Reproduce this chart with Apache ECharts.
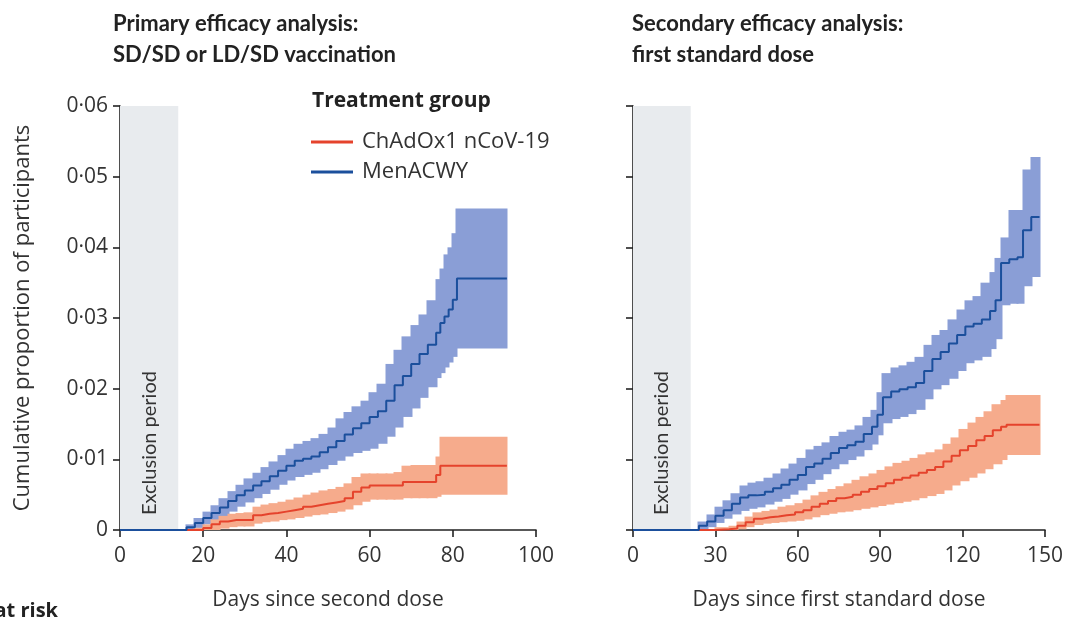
<!DOCTYPE html>
<html>
<head>
<meta charset="utf-8">
<script src="https://cdn.jsdelivr.net/npm/echarts@6/dist/echarts.min.js"></script>
<style>
html,body{margin:0;padding:0;background:#fff;}
#chart{width:1069px;height:617px;}
</style>
</head>
<body>
<div id="chart"></div>
<script>
// ---------- DATA ----------
const groupNames = ['ChAdOx1 nCoV-19', 'MenACWY'];

// Primary analysis (days since second dose)
const pExclusionEnd = 14;
const pMenDays = [0,14,16,18,20,22,24,26,28,30,32,34,36,38,40,42,44,46,48,50,52,54,56,58,60,62,64,66,68,70,72,74,76,77,78,79,80,81,93];
const pMenEst  = [0,0,0.0004,0.001,0.0017,0.0024,0.0032,0.0041,0.0049,0.0056,0.0063,0.0069,0.0076,0.0084,0.0091,0.0098,0.0101,0.0104,0.011,0.0117,0.0126,0.0135,0.0144,0.0151,0.016,0.0168,0.0183,0.0205,0.0218,0.0235,0.0249,0.0262,0.0279,0.0293,0.0302,0.0312,0.0326,0.0356,0.0356];
const pMenLo   = [0,0,0,0.0003,0.0008,0.0013,0.0019,0.0026,0.0033,0.0039,0.0045,0.0051,0.0057,0.0064,0.007,0.0075,0.0078,0.0081,0.0086,0.0092,0.0098,0.0104,0.0109,0.0112,0.0115,0.0122,0.0132,0.0145,0.016,0.0172,0.0187,0.0202,0.0215,0.0222,0.023,0.0237,0.0245,0.0257,0.0257];
const pMenHi   = [0,0,0.0008,0.0017,0.0026,0.0035,0.0045,0.0055,0.0064,0.0073,0.0081,0.0089,0.0097,0.0106,0.0115,0.0122,0.0126,0.013,0.0136,0.0145,0.0158,0.0167,0.0175,0.0183,0.0195,0.0207,0.0235,0.0255,0.0274,0.029,0.0305,0.0325,0.0355,0.037,0.039,0.040,0.042,0.0455,0.0455];

const pChaDays = [0,14,18,20,22,24,26,28,30,32,34,36,38,40,42,44,46,48,50,52,54,56,58,60,62,64,66,68,70,72,74,76,77,93];
const pChaEst  = [0,0,0,0.0003,0.0008,0.0012,0.0014,0.0014,0.0014,0.0021,0.0023,0.0024,0.0026,0.0028,0.003,0.0033,0.0035,0.0037,0.0039,0.0041,0.0045,0.0054,0.006,0.0063,0.0063,0.0063,0.0063,0.0068,0.0068,0.0068,0.0068,0.0078,0.0091,0.0091];
const pChaLo   = [0,0,0,0,0,0.0002,0.0004,0.0005,0.0005,0.0009,0.0011,0.0012,0.0014,0.0015,0.0017,0.0019,0.0021,0.0022,0.0024,0.0026,0.0029,0.0035,0.004,0.0043,0.0043,0.0043,0.0043,0.0045,0.0045,0.0045,0.0045,0.0047,0.005,0.005];
const pChaHi   = [0,0,0.0003,0.0008,0.0015,0.002,0.0023,0.0024,0.0025,0.0033,0.0036,0.0038,0.004,0.0043,0.0046,0.005,0.0053,0.0056,0.0058,0.0061,0.0066,0.0075,0.008,0.008,0.008,0.008,0.0082,0.0091,0.0092,0.0092,0.0092,0.0104,0.0132,0.0132];

// Secondary analysis (days since first standard dose)
const sExclusionEnd = 21;
const sMenDays = [0,21,24,27,30,33,36,39,42,45,48,51,54,57,60,63,66,69,72,75,78,81,84,87,89,91,94,97,100,103,106,109,112,115,118,121,124,127,130,132,134,137,140,142,145,148];
const sMenEst  = [0,0,0.0006,0.0012,0.002,0.0028,0.0037,0.0046,0.0049,0.005,0.0054,0.0059,0.0064,0.0071,0.0078,0.0089,0.0094,0.0101,0.0109,0.0116,0.012,0.0125,0.0136,0.0146,0.0163,0.0188,0.0196,0.0199,0.0202,0.0208,0.0225,0.0242,0.0252,0.0264,0.0276,0.0288,0.0292,0.0298,0.031,0.0325,0.0378,0.0383,0.0386,0.0424,0.0443,0.0443];
const sMenLo   = [0,0,0.0001,0.0004,0.001,0.0016,0.0022,0.0027,0.003,0.0032,0.0036,0.004,0.0044,0.005,0.0056,0.0065,0.0071,0.0079,0.0086,0.0093,0.0099,0.0104,0.0113,0.0121,0.0134,0.0151,0.0157,0.016,0.0164,0.017,0.0185,0.0199,0.0205,0.0214,0.0225,0.0236,0.024,0.0245,0.0256,0.027,0.0318,0.032,0.032,0.0345,0.0358,0.0358];
const sMenHi   = [0,0,0.0012,0.0022,0.0033,0.0042,0.0052,0.0063,0.0067,0.0069,0.0074,0.008,0.0087,0.0094,0.0102,0.0114,0.0119,0.0124,0.0133,0.0139,0.0142,0.0148,0.016,0.017,0.0195,0.0222,0.023,0.0233,0.0238,0.0245,0.0262,0.0276,0.0283,0.0298,0.0312,0.0325,0.0331,0.035,0.0365,0.0385,0.0414,0.0453,0.0453,0.051,0.0528,0.0528];

const sChaDays = [0,21,30,35,38,41,44,47,50,53,56,59,62,65,68,71,74,77,80,83,86,89,92,95,98,101,104,107,110,113,116,119,122,125,128,131,134,136,148];
const sChaEst  = [0,0,0.0001,0.0002,0.0006,0.0011,0.0016,0.0018,0.0019,0.0021,0.0022,0.0025,0.0028,0.0033,0.0037,0.0041,0.0045,0.0047,0.005,0.0054,0.0058,0.0062,0.0066,0.0071,0.0074,0.0077,0.0081,0.0085,0.0089,0.0097,0.0105,0.0113,0.0119,0.0127,0.0133,0.0141,0.0146,0.0149,0.0149];
const sChaLo   = [0,0,0,0,0.0001,0.0004,0.0007,0.0009,0.001,0.0011,0.0012,0.0013,0.0015,0.0018,0.0021,0.0023,0.0025,0.0026,0.0028,0.003,0.0032,0.0034,0.0036,0.0038,0.004,0.0042,0.0045,0.0048,0.0051,0.0056,0.0063,0.0069,0.0074,0.008,0.0086,0.0093,0.0099,0.0106,0.0106];
const sChaHi   = [0,0,0.0004,0.0006,0.0012,0.0019,0.0025,0.0027,0.0029,0.0033,0.0035,0.0038,0.0043,0.0049,0.0054,0.0058,0.0062,0.0066,0.0071,0.0076,0.008,0.0085,0.009,0.0095,0.0098,0.0102,0.0107,0.011,0.0114,0.0122,0.0131,0.0143,0.0152,0.016,0.0168,0.0178,0.0184,0.0191,0.0191];

// ---------- STYLE ----------
const FONT = 'Open Sans';
const TXT = '#333';
const AX = '#222';
const RED = '#e5432c', RED_BAND = '#f6ab8c';
const BLUE = '#1b4f9c', BLUE_BAND = '#8a9ed6';
const SHADE = '#e8ebee';

function pairs(xs, ys){ return xs.map((x,i)=>[x, ys[i]]); }
// each band item: [dayStart, dayEnd, lower, upper] -> one step rectangle
function bandItems(xs, lo, hi){
  const out = [];
  for (let i = 0; i < xs.length - 1; i++) out.push([xs[i], xs[i+1], lo[i], hi[i]]);
  return out;
}

function bandSeries(idx, key, days, lo, hi, color){
  return {type:'custom', name:key+'-band', xAxisIndex:idx, yAxisIndex:idx, silent:true, z:2,
    data:bandItems(days, lo, hi),
    encode:{x:[0,1], y:[2,3]},
    renderItem:function(params, api){
      const p0 = api.coord([api.value(0), api.value(3)]);
      const p1 = api.coord([api.value(1), api.value(2)]);
      const x0 = Math.floor(p0[0]) - 0.5, x1 = Math.ceil(p1[0]) + 0.5;
      const y0 = Math.min(p0[1], p1[1]), y1 = Math.max(p0[1], p1[1]);
      if (y1 - y0 < 0.01) return null;
      return {type:'rect', shape:{x:x0, y:y0, width:x1-x0, height:y1-y0},
        style:{fill:color}};
    }
  };
}
function estSeries(idx, name, days, est, color){
  return {type:'line', name:name, xAxisIndex:idx, yAxisIndex:idx, step:'end',
    data:pairs(days, est), symbol:'none', lineStyle:{width:2, color:color}, itemStyle:{color:color}, z:5};
}
function shadeSeries(idx, end){
  return {type:'line', name:'excl'+idx, xAxisIndex:idx, yAxisIndex:idx, data:[], silent:true,
    markArea:{silent:true, itemStyle:{color:SHADE}, label:{show:false},
      data:[[{xAxis:0, yAxis:0},{xAxis:end, yAxis:0.06}]]}, z:1};
}

const yLabel = v => v === 0 ? '0' : v.toFixed(2).replace('.', '\u00b7');

const axisCommon = {
  axisLine:{show:true, lineStyle:{color:AX, width:1.6}},
  axisTick:{show:true, length:7, lineStyle:{color:AX, width:1.6}},
  splitLine:{show:false},
  nameTextStyle:{fontFamily:FONT, fontSize:21, color:TXT}
};
const xLabelStyle = {fontFamily:FONT, fontSize:21, color:TXT, margin:16};
const yLabelStyle = {fontFamily:FONT, fontSize:21, color:TXT, margin:12, formatter:yLabel};

const option = {
  animation:false,
  backgroundColor:'#fff',
  grid:[
    {left:120, top:106, width:416, height:424},
    {left:633, top:106, width:412, height:424}
  ],
  xAxis:[
    Object.assign({}, axisCommon, {type:'value', gridIndex:0, min:0, max:100, interval:20,
      name:'Days since second dose', nameLocation:'middle', nameGap:60, axisLabel:xLabelStyle}),
    Object.assign({}, axisCommon, {type:'value', gridIndex:1, min:0, max:150, interval:30,
      name:'Days since first standard dose', nameLocation:'middle', nameGap:60, axisLabel:xLabelStyle})
  ],
  yAxis:[
    Object.assign({}, axisCommon, {type:'value', gridIndex:0, min:0, max:0.06, interval:0.01,
      name:'Cumulative proportion of participants', nameLocation:'middle', nameGap:86,
      nameTextStyle:{fontFamily:FONT, fontSize:22, color:TXT},
      axisLabel:yLabelStyle}),
    Object.assign({}, axisCommon, {type:'value', gridIndex:1, min:0, max:0.06, interval:0.01,
      axisLabel:{show:false}})
  ],
  legend:{
    left:306, top:126, orient:'vertical', itemGap:8, itemWidth:42, itemHeight:3,
    icon:'rect', data:groupNames,
    textStyle:{fontFamily:FONT, fontSize:22, color:TXT, padding:[0,0,0,4]}
  },
  series:[
    shadeSeries(0, pExclusionEnd),
    shadeSeries(1, sExclusionEnd),
    bandSeries(0, 'pMen', pMenDays, pMenLo, pMenHi, BLUE_BAND),
    bandSeries(0, 'pCha', pChaDays, pChaLo, pChaHi, RED_BAND),
    bandSeries(1, 'sMen', sMenDays, sMenLo, sMenHi, BLUE_BAND),
    bandSeries(1, 'sCha', sChaDays, sChaLo, sChaHi, RED_BAND),
    estSeries(0, groupNames[0], pChaDays, pChaEst, RED),
    estSeries(0, groupNames[1], pMenDays, pMenEst, BLUE),
    estSeries(1, groupNames[0], sChaDays, sChaEst, RED),
    estSeries(1, groupNames[1], sMenDays, sMenEst, BLUE)
  ]
};

const chart = echarts.init(document.getElementById('chart'), null, {renderer:'canvas'});
chart.setOption(option);

// Rotated "Exclusion period" labels placed through the axes' own scales
function exclLabel(id, gridIdx, end){
  const p = chart.convertToPixel({xAxisIndex:gridIdx, yAxisIndex:gridIdx}, [end/2, 0]);
  return {type:'text', id:id, x:p[0], y:p[1]-15, rotation:Math.PI/2, z:10,
    style:{text:'Exclusion period', font:'20px Lato', fill:TXT, align:'left', verticalAlign:'middle'}};
}
chart.setOption({graphic:[
  {type:'text', id:'t1', left:113, top:8, style:{text:'Primary efficacy analysis:\nSD/SD or LD/SD vaccination',
    font:'bold 22px Lato', fill:'#222', lineHeight:31}},
  {type:'text', id:'t2', left:632, top:8, style:{text:'Secondary efficacy analysis:\nfirst standard dose',
    font:'bold 22px Lato', fill:'#222', lineHeight:31}},
  {type:'text', id:'lg', left:312, top:91, style:{text:'Treatment group', font:'bold 21px "Open Sans"', fill:'#222'}},
  {type:'text', id:'ar', right:1069-58, top:601, style:{text:'Number at risk', font:'bold 20px "Open Sans"', fill:'#222'}},
  exclLabel('e1', 0, pExclusionEnd),
  exclLabel('e2', 1, sExclusionEnd)
]});
</script>
</body>
</html>
